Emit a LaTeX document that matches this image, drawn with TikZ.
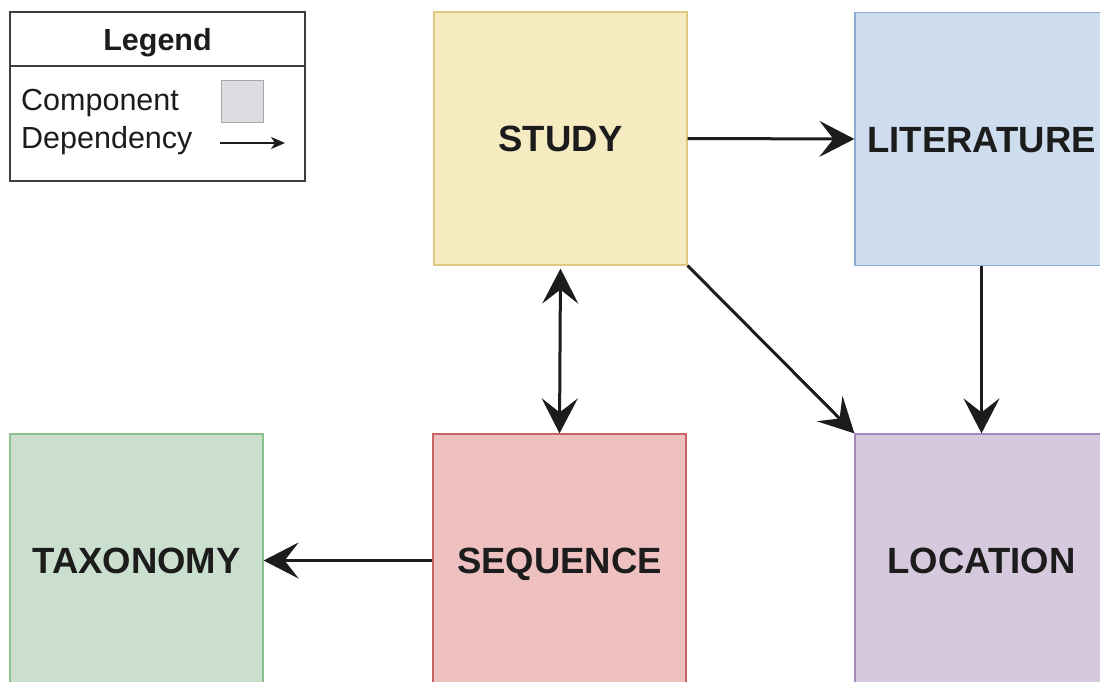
\documentclass[tikz,border=0pt]{standalone}
\usepackage{fontspec}
\setmainfont{Liberation Sans}
\usetikzlibrary{arrows.meta}
\definecolor{studyfill}{RGB}{246,234,192}
\definecolor{studydraw}{RGB}{222,200,130}
\definecolor{litfill}{RGB}{205,221,238}
\definecolor{litdraw}{RGB}{140,170,212}
\definecolor{seqfill}{RGB}{238,193,192}
\definecolor{seqdraw}{RGB}{200,100,100}
\definecolor{taxfill}{RGB}{202,223,206}
\definecolor{taxdraw}{RGB}{140,192,140}
\definecolor{locfill}{RGB}{214,200,221}
\definecolor{locdraw}{RGB}{165,135,185}
\definecolor{legfill}{RGB}{220,221,224}
\definecolor{ink}{RGB}{28,28,28}
\tikzset{
  comp/.style={draw, line width=1.2pt, minimum width=253pt, minimum height=253pt, inner sep=0pt,
    font=\fontsize{36.5}{40}\selectfont\bfseries, text=ink, text height=26.1pt, text depth=0pt},
  bighead/.tip={Stealth[length=35pt, width=36pt, inset=14pt]},
  dep/.style={draw=ink, line width=3pt, -bighead},
  depboth/.style={draw=ink, line width=3pt, bighead-bighead},
  legtxt/.style={font=\fontsize{30.5}{34}\selectfont, text=ink, inner sep=0pt},
}
\begin{document}
\begin{tikzpicture}[x=1pt, y=-1pt]
\useasboundingbox (0,0) rectangle (1100,682);
\clip (0,0) rectangle (1100,682);
\fill[white] (0,0) rectangle (1100,682);
% components
\node[comp, fill=studyfill, draw=studydraw] (study) at (560.5,138.5) {STUDY};
\node[comp, fill=litfill, draw=litdraw] (lit) at (981.5,139) {LITERATURE};
\node[comp, fill=seqfill, draw=seqdraw] (seq) at (559.5,560.5) {SEQUENCE};
\node[comp, fill=taxfill, draw=taxdraw] (tax) at (136.5,560.5) {TAXONOMY};
\node[comp, fill=locfill, draw=locdraw] (loc) at (981.5,560.5) {LOCATION};
% dependencies
\draw[dep] (study.east) -- (lit.west);
\draw[dep] (study.south east) -- (loc.north west);
\draw[dep] (lit.south) -- (loc.north);
\draw[depboth] ([yshift=-3pt]study.south) -- (seq.north);
\draw[dep] (seq.west) -- (tax.east);
% legend
\node[draw=ink!85, line width=2pt, minimum width=295pt, minimum height=169pt, inner sep=0pt] (legend) at (157.5,96.5) {};
\coordinate (divl) at (10,66);
\coordinate (divr) at (305,66);
\draw[ink!85, line width=2pt] (divl) -- (divr);
\node[legtxt, font=\fontsize{30.5}{34}\selectfont\bfseries] (legtitle) at (157.5,43) {Legend};
\node[legtxt, anchor=west] (lcomp) at (21,103) {Component};
\node[legtxt, anchor=west] (ldep) at (21,141) {Dependency};
\node[draw=gray!70, fill=legfill, line width=1pt, minimum width=42pt, minimum height=42pt, inner sep=0pt] (lbox) at (242,102) {};
\coordinate (la) at (220,143);
\coordinate (lb) at (285,143);
\draw[ink, line width=2pt, -{Stealth[length=14pt, width=12pt, inset=4pt]}] (la) -- (lb);
\end{tikzpicture}
\end{document}
